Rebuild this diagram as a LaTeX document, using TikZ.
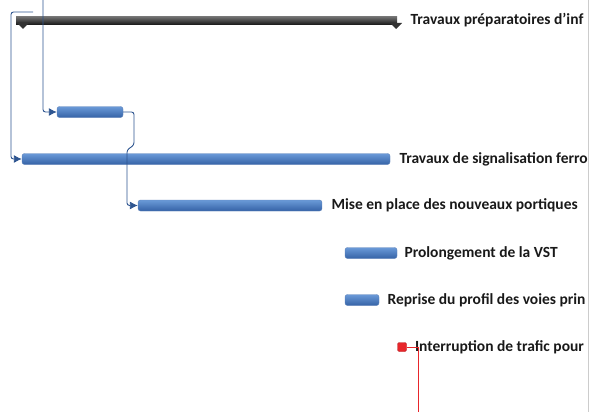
\documentclass[tikz,border=0pt]{standalone}
\usepackage{fontspec}
\setmainfont{Carlito}
\usetikzlibrary{arrows,arrows.meta,positioning}
\definecolor{bartop}{HTML}{6A9AD8}
\definecolor{barbot}{HTML}{3562A6}
\definecolor{linkblue}{HTML}{2E5590}
\definecolor{msred}{HTML}{E8262B}

\begin{document}
\begin{tikzpicture}[x=1pt,y=-1pt,>={Latex[length=8pt,width=8pt]},semithick,
  taskbar/.style={rectangle,rounded corners=2.5pt,inner sep=0pt,minimum height=11pt,top color=bartop,bottom color=barbot,draw=barbot!80,thin},
  sumbar/.style={rectangle,inner sep=0pt,minimum height=8pt,top color=black!55,bottom color=black!90},
  lbl/.style={font=\fontsize{15.5}{18}\selectfont\bfseries,text=black!90,inner sep=0pt,anchor=west},
  link/.style={->,draw=linkblue,line width=0.9pt,rounded corners=2.5pt}]
  \useasboundingbox (0,0) rectangle (589,412);
  \clip (0,0) rectangle (589,412);

  \node[sumbar,minimum width=381pt](sum) at (206.5,20.5){};
  \fill[black!80] (17,23) -- (29,23) -- (23,29) -- cycle;
  \fill[black!80] (390,23) -- (402,23) -- (396,29) -- cycle;
  \node[lbl](l0)[right=13pt of sum]{Travaux préparatoires d'inf};

  \node[taskbar,minimum width=66pt](t1) at (90,112){};
  \node[taskbar,minimum width=368pt](t2) at (206,159){};
  \node[lbl](l2)[right=9pt of t2]{Travaux de signalisation ferro};
  \node[taskbar,minimum width=184pt](t3) at (230,205.5){};
  \node[lbl](l3)[right=9pt of t3]{Mise en place des nouveaux portiques};
  \node[taskbar,minimum width=52pt](t4) at (371,253){};
  \node[lbl](l4)[right=7pt of t4]{Prolongement de la VST};
  \node[taskbar,minimum width=34pt](t5) at (362,300){};
  \node[lbl](l5)[right=8pt of t5]{Reprise du profil des voies prin};

  \node[rectangle,rounded corners=1.5pt,fill=msred,draw=msred!80!black,thin,minimum size=9pt,inner sep=0pt](ms) at (402,347){};
  \node[lbl](l6)[right=8pt of ms]{Interruption de trafic pour};

  \coordinate (src1) at (33,12);
  \coordinate (src2) at (43,0);
  \coordinate (mdown) at (418,420);

  \path[link] (src1) -| (11,140) |- (t2.west);
  \path[link] (src2) |- (t1.west);
  \path[link] (t1.east) -| (134,145) -- (127,150) |- (t3.west);
  \draw[msred,line width=1pt] (ms.east) -| (mdown);

  \draw[black!20,line width=1pt] (588.5,0) -- (588.5,412);
\end{tikzpicture}
\end{document}
